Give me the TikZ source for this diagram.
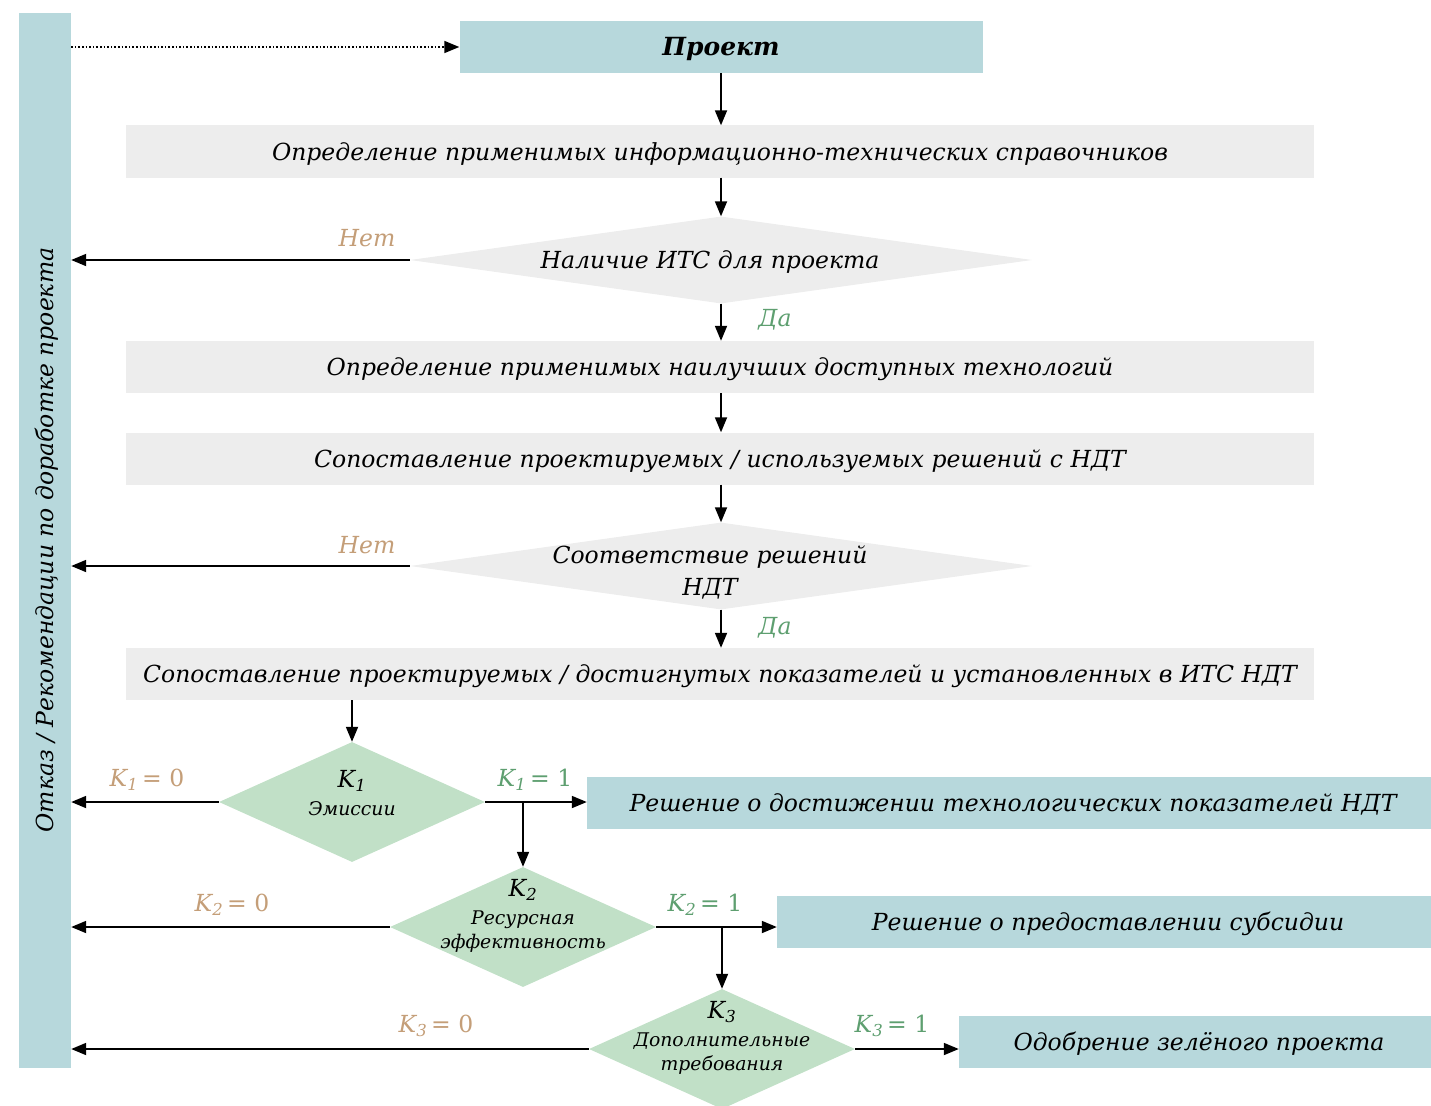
\documentclass[tikz,border=0pt]{standalone}
\usepackage{fontspec}
\setmainfont{DejaVu Serif}
\usetikzlibrary{arrows.meta,shapes.geometric}
\definecolor{tealbox}{HTML}{B7D8DC}
\definecolor{graybox}{HTML}{EDEDED}
\definecolor{greendia}{HTML}{C1E0C7}
\definecolor{notxt}{HTML}{C49E78}
\definecolor{yestxt}{HTML}{5E9F70}
\newcommand{\kname}[1]{{\fontsize{23.5}{25}\selectfont K\textsubscript{#1}}}
\begin{document}
\begin{tikzpicture}[x=1pt,y=-1pt,
  mainfont/.style={font=\fontsize{23.5}{32}\selectfont\itshape},
  txt/.style={mainfont, text height=20pt, text depth=3pt},
  small/.style={font=\fontsize{18.8}{25}\selectfont\itshape},
  stepbox/.style={fill=graybox, minimum width=1188pt, minimum height=52pt, inner sep=0pt, txt},
  tealrect/.style={fill=tealbox, minimum height=52pt, inner sep=0pt, txt},
  graydia/.style={diamond, fill=graybox, minimum width=622pt, minimum height=87pt, inner sep=0pt},
  greendia/.style={diamond, fill=greendia, minimum width=266pt, minimum height=120pt, inner sep=0pt},
  tip/.style={-{Triangle[length=15pt,width=12pt]}},
  arr/.style={line width=1.8pt, tip},
  nolab/.style={txt, text=notxt},
  yeslab/.style={txt, text=yestxt},
]
\useasboundingbox (0,0) rectangle (1431,1105);

% side column with the rejection outcome
\node[fill=tealbox, minimum width=52pt, minimum height=1055pt, inner sep=0pt] (bar) at (45,540.5) {};
\node[txt, rotate=90] (bartext) at (45,540) {Отказ / Рекомендации по доработке проекта};

% main chain
\node[tealrect, minimum width=523pt, font=\fontsize{25}{28}\selectfont\bfseries\itshape] (proj) at (721,47) {Проект};
\node[stepbox] (s1) at (720,151.5) {Определение применимых информационно-технических справочников};
\node[graydia, label={[txt, xshift=-11pt]center:Наличие ИТС для проекта}] (d1) at (721,260) {};
\node[stepbox] (s2) at (720,367) {Определение применимых наилучших доступных технологий};
\node[stepbox] (s3) at (720,458.5) {Сопоставление проектируемых / используемых решений с НДТ};
\node[graydia, label={[mainfont, align=center, xshift=-11pt, yshift=-6pt]center:Соответствие решений\\НДТ}] (d2) at (721,566) {};
\node[stepbox] (s4) at (720,674) {Сопоставление проектируемых / достигнутых показателей и установленных в ИТС НДТ};

% criteria diamonds
\node[greendia, label={[small, align=center, yshift=9pt]center:\kname{1}\\[3pt]Эмиссии}] (k1) at (352,802) {};
\node[greendia, label={[small, align=center, yshift=11pt]center:\kname{2}\\[3pt]Ресурсная\\[-1pt]эффективность}] (k2) at (523,927) {};
\node[greendia, label={[small, align=center, yshift=11pt]center:\kname{3}\\[3pt]Дополнительные\\[-1pt]требования}] (k3) at (722,1049) {};

% positive outcomes
\node[tealrect, minimum width=844pt] (r1) at (1009,803) {\hspace*{8pt}Решение о достижении технологических показателей НДТ};
\node[tealrect, minimum width=654pt] (r2) at (1104,922) {\hspace*{8pt}Решение о предоставлении субсидии};
\node[tealrect, minimum width=472pt] (r3) at (1195,1042) {\hspace*{8pt}Одобрение зелёного проекта};

% return path to the project
\draw[line width=1.6pt, dotted, tip] (bar.east |- proj.west) -- (proj.west);

% vertical flow
\draw[arr] (proj.south) -- (proj.south |- s1.north);
\draw[arr] (s1.south -| d1.north) -- (d1.north);
\draw[arr] (d1.south) -- (d1.south |- s2.north);
\draw[arr] (s2.south -| d1.north) -- (s3.north -| d1.north);
\draw[arr] (s3.south -| d2.north) -- (d2.north);
\draw[arr] (d2.south) -- (d2.south |- s4.north);
\draw[arr] (s4.south -| k1.north) -- (k1.north);

% negative branches
\draw[arr] (d1.west) -- (d1.west -| bar.east);
\draw[arr] (d2.west) -- (d2.west -| bar.east);
\draw[arr] (k1.west) -- (k1.west -| bar.east);
\draw[arr] (k2.west) -- (k2.west -| bar.east);
\draw[arr] (k3.west) -- (k3.west -| bar.east);

% positive branches
\draw[arr] (k1.east) -- (k1.east -| r1.west);
\draw[arr] (k1.east -| k2.north) -- (k2.north);
\draw[arr] (k2.east) -- (k2.east -| r2.west);
\draw[arr] (k2.east -| k3.north) -- (k3.north);
\draw[arr] (k3.east) -- (k3.east -| r3.west);

% branch labels
\node[nolab] (n1) at (367,238) {Нет};
\node[yeslab] (y1) at (775,318) {Да};
\node[nolab] (n2) at (367,545) {Нет};
\node[yeslab] (y2) at (775,626) {Да};
\node[nolab] (k1no) at (147,778) {K\textsubscript{1}\,\textup{= 0}};
\node[yeslab] (k1yes) at (535,778) {K\textsubscript{1}\,\textup{= 1}};
\node[nolab] (k2no) at (232,903) {K\textsubscript{2}\,\textup{= 0}};
\node[yeslab] (k2yes) at (705,903) {K\textsubscript{2}\,\textup{= 1}};
\node[nolab] (k3no) at (436,1024) {K\textsubscript{3}\,\textup{= 0}};
\node[yeslab] (k3yes) at (892,1024) {K\textsubscript{3}\,\textup{= 1}};
\end{tikzpicture}
\end{document}
